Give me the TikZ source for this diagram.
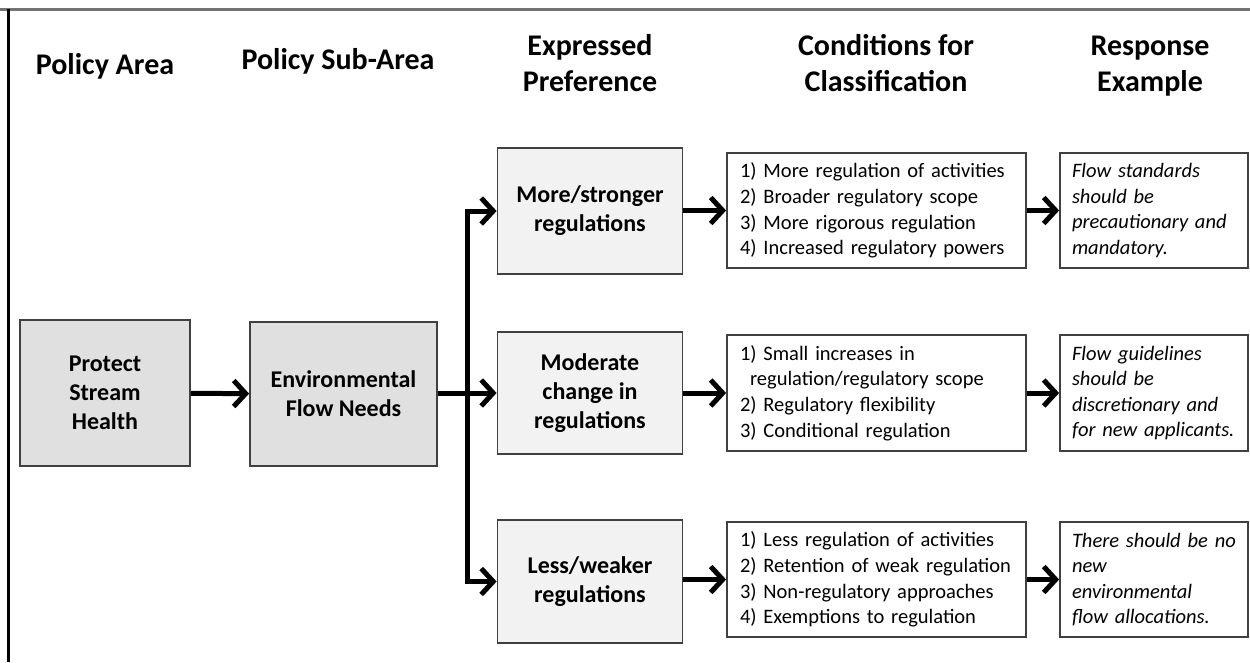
\documentclass[tikz,border=0pt]{standalone}
\usepackage{fontspec}
\setmainfont{Carlito}
\usetikzlibrary{arrows.meta}
\tikzset{
  colhead/.style={font=\fontsize{30}{36}\selectfont\bfseries, align=center, inner sep=0pt},
  areabox/.style={draw=black!75, line width=1.8pt, fill=black!12, align=center,
    font=\fontsize{24}{29}\selectfont\bfseries, inner sep=0pt},
  prefbox/.style={areabox, fill=black!5, minimum width=185pt},
  condbox/.style={draw=black!75, line width=1.8pt, fill=white, align=left,
    font=\fontsize{20.5}{25.6}\selectfont, inner sep=0pt,
    text width=273pt, minimum height=115pt},
  respbox/.style={condbox, font=\fontsize{20.5}{25.6}\selectfont\itshape, text width=164pt},
  flow/.style={line width=5pt, -{Straight Barb[length=12pt,width=26pt,line width=5pt]}}
}
\begin{document}
\begin{tikzpicture}[x=1pt, y=-1pt]
  \useasboundingbox (0,0) rectangle (1250,662);
  \draw[black!55, line width=3pt] (0,9) -- (1250,9);
  \draw[black, line width=3pt] (8,9) -- (8,662);
  \node[colhead] (hdarea) at (105,66) {Policy Area};
  \node[colhead] (hdsub) at (338,61) {Policy Sub-Area};
  \node[colhead] (hdpref) at (590,66) {\strut Expressed\\Preference\strut};
  \node[colhead] (hdcond) at (886,66) {\strut Conditions for\\Classification\strut};
  \node[colhead] (hdresp) at (1150,66) {\strut Response\\Example\strut};
  \node[areabox, minimum width=170pt, minimum height=146pt] (protect) at (105,393) {Protect\\Stream\\Health};
  \node[areabox, minimum width=187pt, minimum height=144pt] (envflow) at (343.5,394) {Environmental\\Flow Needs};
  \node[prefbox, minimum height=126pt] (prefmore) at (590,211) {More/stronger\\regulations};
  \node[prefbox, minimum height=122pt] (prefmod) at (590,393) {Moderate\\change in\\regulations};
  \node[prefbox, minimum height=123pt] (prefless) at (590,581.5) {Less/weaker\\regulations};
  \node[condbox, minimum width=299pt] (condmore) at (876.5,210.5) {1) More regulation of activities\\2) Broader regulatory scope\\3) More rigorous regulation\\4) Increased regulatory powers};
  \node[condbox, minimum width=299pt, minimum height=116pt] (condmod) at (876.5,393) {1) Small increases in\\\hspace*{10pt}regulation/regulatory scope\\2) Regulatory flexibility\\3) Conditional regulation};
  \node[condbox, minimum width=299pt] (condless) at (876.5,579.5) {1) Less regulation of activities\\2) Retention of weak regulation\\3) Non-regulatory approaches\\4) Exemptions to regulation};
  \node[respbox, minimum width=188pt] (respmore) at (1154,210.5) {Flow standards\\should be\\precautionary and\\mandatory.};
  \node[respbox, minimum width=188pt, minimum height=116pt] (respmod) at (1154,393) {Flow guidelines\\should be\\discretionary and\\for new applicants.};
  \node[respbox, minimum width=188pt] (respless) at (1154,579.5) {There should be no\\new\\environmental\\flow allocations.};
  \coordinate (fork) at (467,393);
  \draw[flow] (protect) -- (envflow);
  \draw[flow] (envflow.east |- prefmod.west) -- (prefmod.west);
  \draw[flow] (fork) |- (prefmore.west);
  \draw[flow] (fork) |- (prefless.west);
  \foreach \row in {more,mod,less}{
    \draw[flow] (cond\row.west -| pref\row.east) -- (cond\row.west);
    \draw[flow] (cond\row) -- (resp\row);
  }
\end{tikzpicture}
\end{document}
